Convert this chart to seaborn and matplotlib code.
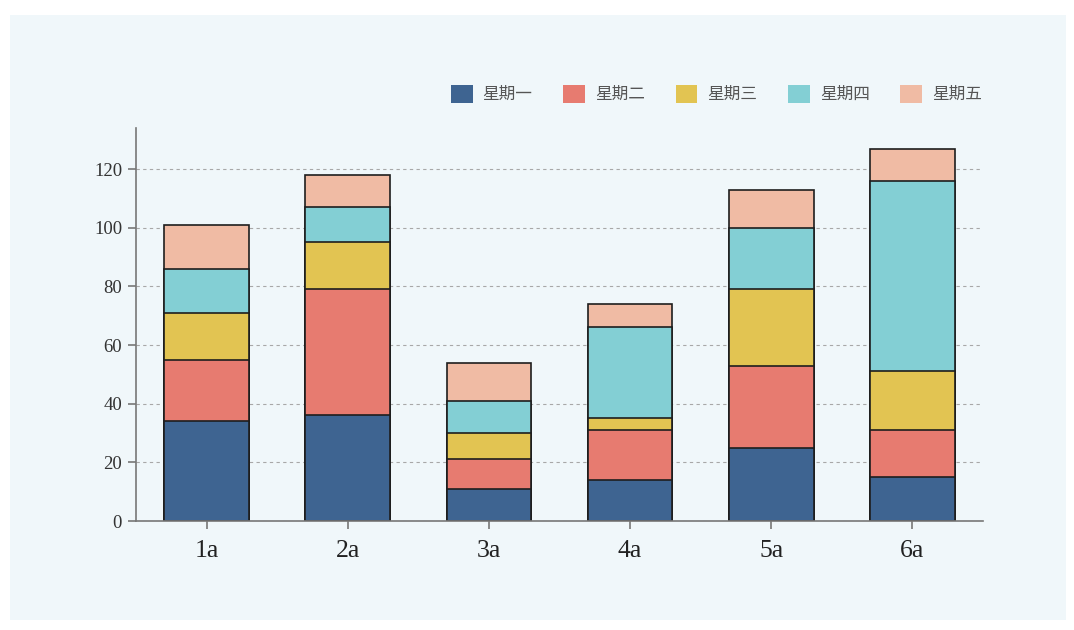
import numpy as np
import pandas as pd
import matplotlib.pyplot as plt
import seaborn as sns
from matplotlib.patches import Patch, Rectangle

# Data

categories = ['1a', '2a', '3a', '4a', '5a', '6a']
series_names = ['星期一', '星期二', '星期三', '星期四', '星期五']
mon = [34, 36, 11, 14, 25, 15]
tue = [21, 43, 10, 17, 28, 16]
wed = [16, 16, 9, 4, 26, 20]
thu = [15, 12, 11, 31, 21, 65]
fri = [15, 11, 13, 8, 13, 11]
colors = ['#3e6491', '#e77b70', '#e2c452', '#83cfd4', '#f0bba4']

sns.set_theme(style='white')
plt.rcParams['font.family'] = ['Noto Sans CJK SC', 'DejaVu Sans']

df = pd.DataFrame({'cat': categories, '星期一': mon, '星期二': tue,
                   '星期三': wed, '星期四': thu, '星期五': fri})
cum = df[series_names].cumsum(axis=1)

fig = plt.figure(figsize=(10.74, 6.30), dpi=100, facecolor='white')
fig.patches.append(Rectangle((10 / 1074, 10 / 630), 1056 / 1074, 605 / 630,
                             transform=fig.transFigure, facecolor='#f0f7fa',
                             edgecolor='none', zorder=-10))
ax = fig.add_axes([136 / 1074, 1 - 521 / 630, (983 - 136) / 1074, (521 - 128) / 630])
ax.set_zorder(1)
ax.set_facecolor('#f0f7fa')

# Stacked bars: draw cumulative totals from the top layer down
for name, color in reversed(list(zip(series_names, colors))):
    sns.barplot(x=df['cat'], y=cum[name], color=color, width=0.6,
                edgecolor='#1e1e1e', linewidth=1.2, saturation=1, ax=ax)

ax.set_ylim(0, 134)
ax.set_xlim(-0.5, 5.5)
ax.set_yticks([0, 20, 40, 60, 80, 100, 120])
ax.yaxis.grid(True, linestyle=(0, (3, 3)), color='#a8a8a8', linewidth=0.8)
ax.set_axisbelow(True)
ax.set_xlabel('')
ax.set_ylabel('')

for s in ['top', 'right']:
    ax.spines[s].set_visible(False)
for s in ['left', 'bottom']:
    ax.spines[s].set_color('#777777')
    ax.spines[s].set_linewidth(1.2)

ax.tick_params(axis='both', which='major', length=6, width=1.2, color='#777777',
               direction='out', bottom=True, left=True)
ax.tick_params(axis='y', pad=4)
ax.tick_params(axis='x', pad=8)
for lbl in ax.get_yticklabels():
    lbl.set_family('Liberation Serif')
    lbl.set_fontsize(13.5)
    lbl.set_color('#333333')
for lbl in ax.get_xticklabels():
    lbl.set_family('Liberation Serif')
    lbl.set_fontsize(18.5)
    lbl.set_color('#222222')

handles = [Patch(facecolor=c, edgecolor='none', label=n) for n, c in zip(series_names, colors)]
leg = fig.legend(handles=handles, loc='center right', bbox_to_anchor=(997 / 1074, 1 - 94 / 630),
                 ncol=5, frameon=False, fontsize=12, handlelength=1.3, handleheight=1.3,
                 handletextpad=0.6, columnspacing=1.85, labelcolor='#555555')

fig.savefig('out.png', dpi=100, facecolor=fig.get_facecolor())
